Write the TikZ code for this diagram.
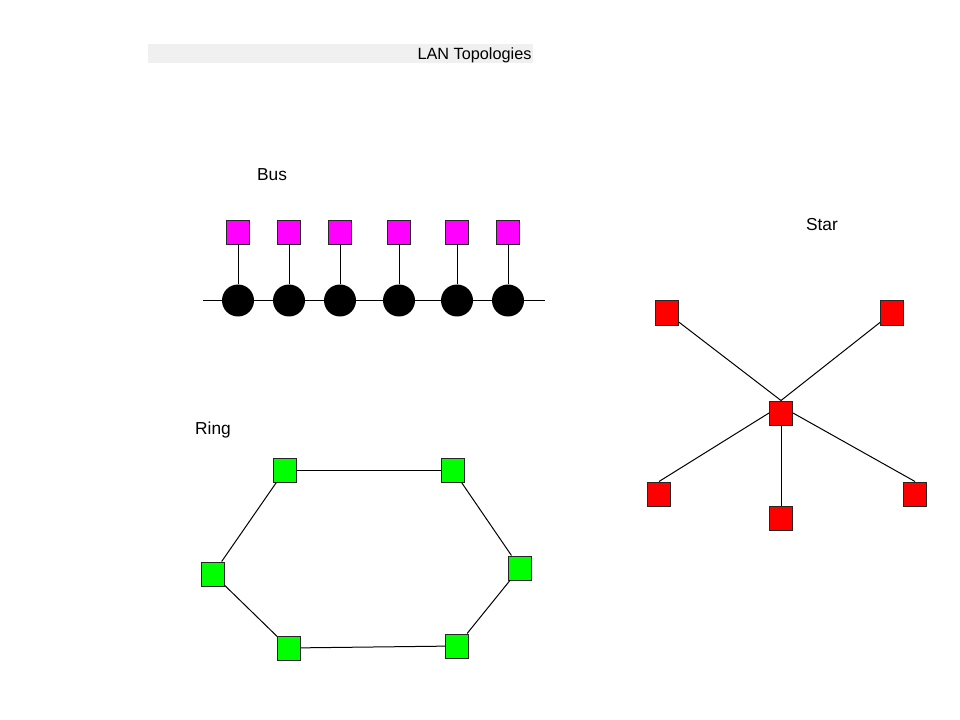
\documentclass[tikz,border=0pt]{standalone}
\usepackage{fontspec}
\setmainfont{Liberation Sans}
\definecolor{buspink}{RGB}{255,0,255}

\begin{document}
\begin{tikzpicture}[x=0.75pt, y=-0.75pt, line width=0.75pt,
    box/.style={draw=black!85, minimum width=17.25pt, minimum height=18pt, inner sep=0pt},
    pc/.style={box, fill=buspink},
    hub/.style={circle, fill=black, minimum size=24pt, inner sep=0pt},
    starpc/.style={box, fill=red},
    ringpc/.style={box, fill=green},
    lbl/.style={font=\fontsize{13}{15}\selectfont, inner sep=0pt}]
          \useasboundingbox (0,0) rectangle (960,720);
          % title bar
          \fill[black!6] (148,44) rectangle (533,63);
          \node[anchor=east, inner sep=0pt, font=\fontsize{12.2}{14}\selectfont] (title) at (532,55.5) {LAN Topologies};
          % bus
          \node[lbl] (buslbl) at (272,174.5) {Bus};
          \coordinate (busL) at (203,300.5);
          \coordinate (busR) at (545,300.5);
          \draw (busL) -- (busR);
          \foreach \x [count=\i] in {238,289,340,399,457,508} {
            \node[pc] (p\i) at (\x,233) {};
            \node[hub] (h\i) at (\x,300.5) {};
            \draw (p\i) -- (h\i);
          }
          % star
          \node[lbl] (starlbl) at (822,224.5) {Star};
          \node[starpc] (c) at (781,413) {};
          \node[starpc] (s1) at (667,313) {};
          \node[starpc] (s2) at (892,313) {};
          \node[starpc] (s3) at (659,494) {};
          \node[starpc] (s4) at (781,518) {};
          \node[starpc] (s5) at (915,494) {};
          \draw (s1) -- (c.north);
          \draw (s2) -- (c.north);
          \draw (s3.north) -- (c.west);
          \draw (s4) -- (c);
          \draw (s5.north) -- (c.east);
          % ring
          \node[lbl] (ringlbl) at (213,430.5) {Ring};
          \node[ringpc] (r1) at (285,470) {};
          \node[ringpc] (r2) at (453,470) {};
          \node[ringpc] (r3) at (520,568) {};
          \node[ringpc] (r4) at (457,646) {};
          \node[ringpc] (r5) at (289,648) {};
          \node[ringpc] (r6) at (213,574) {};
          \draw (r1) -- (r2);
          \draw (r2) -- (r3);
          \draw (r3) -- (r4);
          \draw (r4) -- (r5);
          \draw (r5) -- (r6);
          \draw (r6) -- (r1);
\end{tikzpicture}
\end{document}
